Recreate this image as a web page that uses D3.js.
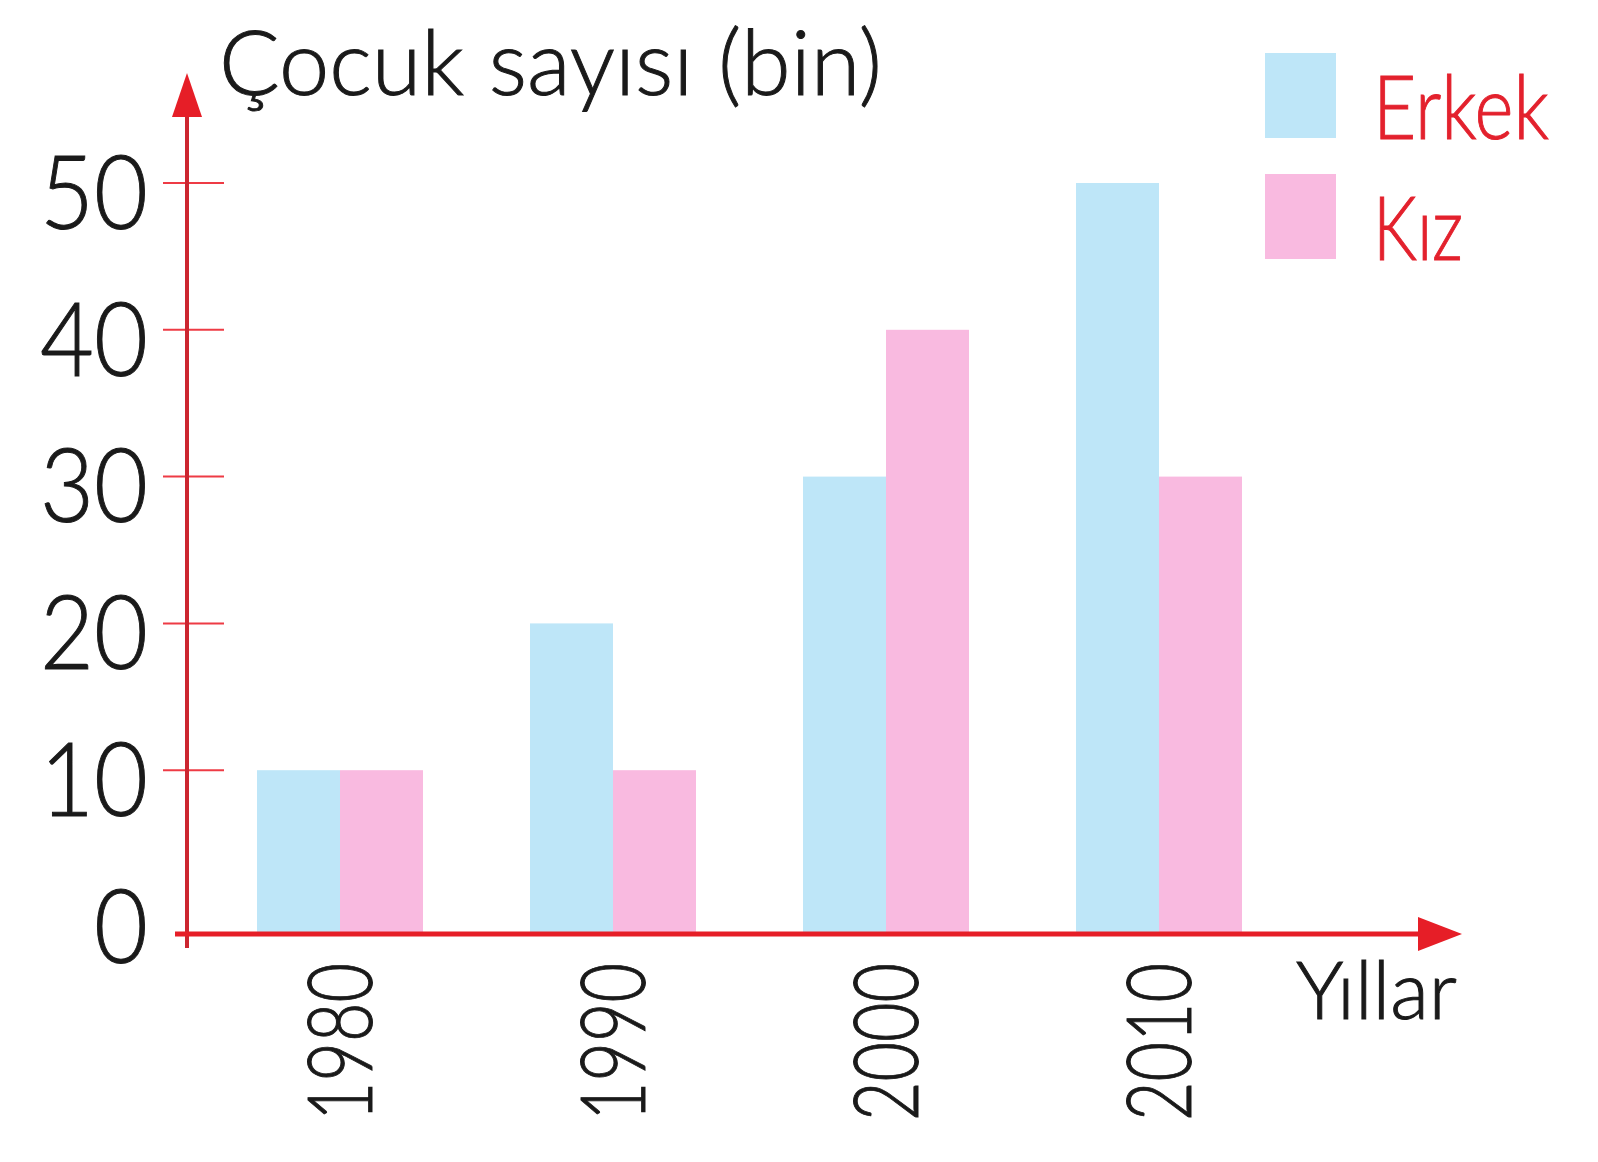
<!DOCTYPE html>
<html>
<head>
<meta charset="utf-8">
<script src="https://cdn.jsdelivr.net/npm/d3@7"></script>
<style>
  body { margin: 0; background: #fff; }
  text { font-family: Lato, "Open Sans", sans-serif; font-weight: 300; }
</style>
</head>
<body>
<div id="chart"></div>
<script>
// data
var years = ['1980', '1990', '2000', '2010'];
var series = ['Erkek', 'Kız'];
var erkek = [10, 20, 30, 50];
var kiz = [10, 10, 40, 30];
var yTicks = [0, 10, 20, 30, 40, 50];
var colors = ['#bee6f8', '#f9bae0'];

var width = 1598, height = 1162;
var axisRed = '#e61e27';

var svg = d3.select('#chart')
    .append('svg')
    .attr('width', width)
    .attr('height', height);

var y = d3.scaleLinear()
    .domain([0, 50])
    .range([917, 183]);

var x = d3.scaleBand()
    .domain(years)
    .range([257, 1242])
    .paddingInner(0.392)
    .paddingOuter(0);

var xs = d3.scaleBand()
    .domain(series)
    .range([0, x.bandwidth()]);

var axisY = 934;   // x axis line position
var axisX = 187;   // y axis line position

// squeeze a text horizontally to a wanted width (the book font is narrow)
function fit(sel, w) {
  sel.each(function() {
    var node = this;
    var want = typeof w === 'function' ? w.apply(node, arguments) : w;
    var sx = want / node.getComputedTextLength();
    var base = node.getAttribute('data-t') || '';
    node.setAttribute('transform', base + ' scale(' + sx + ',1)');
  });
}

var rows = years.map(function(yr, i) {
  return {year: yr, values: [erkek[i], kiz[i]]};
});

// bars
svg.append('g')
    .selectAll('g')
    .data(rows)
    .enter()
    .append('g')
    .attr('transform', function(d) { return 'translate(' + x(d.year) + ',0)'; })
    .selectAll('rect')
    .data(function(d) {
      return d.values.map(function(v, i) { return {key: series[i], value: v, i: i}; });
    })
    .enter()
    .append('rect')
    .attr('x', function(d) { return xs(d.key); })
    .attr('y', function(d) { return y(d.value); })
    .attr('width', xs.bandwidth())
    .attr('height', function(d) { return axisY - y(d.value); })
    .attr('fill', function(d) { return colors[d.i]; });

// y ticks (short red dashes) and labels
var yAxis = svg.append('g');
yAxis.selectAll('line')
    .data(yTicks.filter(function(t) { return t > 0; }))
    .enter()
    .append('line')
    .attr('x1', 163)
    .attr('x2', 224)
    .attr('y1', function(d) { return y(d); })
    .attr('y2', function(d) { return y(d); })
    .attr('stroke', '#ee3b45')
    .attr('stroke-width', 2);

yAxis.selectAll('text')
    .data(yTicks)
    .enter()
    .append('text')
    .attr('data-t', function(d) { return 'translate(148,' + (y(d) + 10) + ')'; })
    .attr('dy', '0.35em')
    .attr('text-anchor', 'end')
    .attr('font-size', 102)
    .attr('fill', '#1a1a1a')
    .attr('stroke', '#1a1a1a')
    .attr('stroke-width', 1)
    .text(function(d) { return d; })
    .call(fit, function(d) { return d == 0 ? 54 : 108; });

// y axis line + arrow
svg.append('line')
    .attr('x1', axisX).attr('x2', axisX)
    .attr('y1', 948).attr('y2', 110)
    .attr('stroke', '#cc2630')
    .attr('stroke-width', 4);
svg.append('path')
    .attr('d', 'M' + axisX + ',73 L' + (axisX + 15) + ',117 L' + (axisX - 15) + ',117 Z')
    .attr('fill', axisRed);

// x axis line + arrow
svg.append('line')
    .attr('x1', 175).attr('x2', 1425)
    .attr('y1', axisY).attr('y2', axisY)
    .attr('stroke', axisRed)
    .attr('stroke-width', 5);
svg.append('path')
    .attr('d', 'M1462,' + axisY + ' L1418,' + (axisY - 17) + ' L1418,' + (axisY + 17) + ' Z')
    .attr('fill', axisRed);

// x labels, rotated
svg.append('g')
    .selectAll('text')
    .data(years)
    .enter()
    .append('text')
    .attr('data-t', function(d) {
      return 'translate(' + (x(d) + x.bandwidth() / 2 + 32) + ',963) rotate(-90)';
    })
    .attr('text-anchor', 'end')
    .attr('font-size', 90)
    .attr('fill', '#1a1a1a')
    .attr('stroke', '#1a1a1a')
    .attr('stroke-width', 1)
    .text(function(d) { return d; })
    .call(fit, 158);

// axis titles
svg.append('text')
    .attr('data-t', 'translate(219,95)')
    .attr('font-size', 90)
    .attr('fill', '#1a1a1a')
    .attr('stroke', '#1a1a1a')
    .attr('stroke-width', 1)
    .text('Çocuk sayısı (bin)')
    .call(fit, 663);

svg.append('text')
    .attr('data-t', 'translate(1296,1019)')
    .attr('font-size', 80)
    .attr('fill', '#1a1a1a')
    .attr('stroke', '#1a1a1a')
    .attr('stroke-width', 1)
    .text('Yıllar')
    .call(fit, 161);

// legend
var legend = svg.append('g')
    .selectAll('g')
    .data(series)
    .enter()
    .append('g')
    .attr('transform', function(d, i) { return 'translate(1265,' + (53 + i * 121) + ')'; });

legend.append('rect')
    .attr('width', 71)
    .attr('height', 85)
    .attr('fill', function(d, i) { return colors[i]; });

legend.append('text')
    .attr('data-t', 'translate(108,86)')
    .attr('font-size', 88)
    .attr('fill', '#e3212d')
    .attr('stroke', '#e3212d')
    .attr('stroke-width', 1)
    .text(function(d) { return d; })
    .call(fit, function(d, i) { return i == 0 ? 176 : 90; });
</script>
</body>
</html>
